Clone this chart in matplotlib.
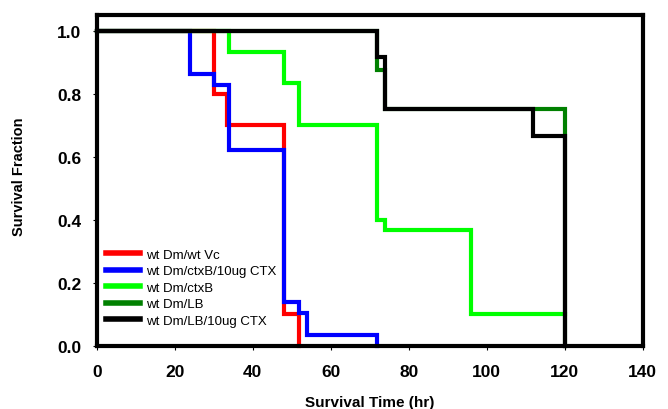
import matplotlib
matplotlib.use("Agg")
import matplotlib.pyplot as plt

plt.rcParams['font.family'] = ['Liberation Sans', 'DejaVu Sans']

labels = ["wt Dm/wt Vc", "wt Dm/ctxB/10ug CTX", "wt Dm/ctxB", "wt Dm/LB", "wt Dm/LB/10ug CTX"]
colors = ["#ff0000", "#0000ff", "#00ff00", "#008000", "#000000"]

t_red = [0, 30, 33.5, 48, 52]
s_red = [1.0, 0.8, 0.7, 0.1, 0.0]
t_blue = [0, 24, 30, 34, 48, 52, 54, 72]
s_blue = [1.0, 0.862, 0.828, 0.621, 0.138, 0.103, 0.034, 0.0]
t_lime = [0, 34, 48, 52, 72, 74, 96, 120]
s_lime = [1.0, 0.933, 0.833, 0.7, 0.4, 0.367, 0.1, 0.1]
t_dg = [0, 72, 74, 120]
s_dg = [1.0, 0.875, 0.75, 0.0]
t_blk = [0, 72, 74, 112, 120]
s_blk = [1.0, 0.917, 0.75, 0.667, 0.0]

xticks = [0, 20, 40, 60, 80, 100, 120, 140]
yticks = [0.0, 0.2, 0.4, 0.6, 0.8, 1.0]

fig = plt.figure(figsize=(6.68, 4.10), dpi=100)
ax = fig.add_axes([0.1448, 0.1544, 0.8172, 0.8066])

series = [(t_red, s_red), (t_blue, s_blue), (t_lime, s_lime), (t_dg, s_dg), (t_blk, s_blk)]
for (t, s), c, lab in zip(series, colors, labels):
    ax.step(t, s, where='post', color=c, lw=3, label=lab, solid_joinstyle='miter', clip_on=False)

ax.set_xlim(0, 140)
ax.set_ylim(0, 1.05)
ax.set_xticks(xticks)
ax.set_yticks(yticks)
ax.set_xticklabels([str(v) for v in xticks], fontweight='bold', fontsize=12.5)
ax.set_yticklabels([f"{v:.1f}" for v in yticks], fontweight='bold', fontsize=12.5)
ax.tick_params(direction='out', length=3, width=0.8, top=False, right=False)
ax.tick_params(axis='x', pad=10)
ax.tick_params(axis='y', pad=8)
for sp in ax.spines.values():
    sp.set_linewidth(3)

ax.set_xlabel("Survival Time (hr)", fontweight='bold', fontsize=11)
ax.xaxis.set_label_coords(0.5, -0.169)
ax.xaxis.label.set_va('center')
ax.set_ylabel("Survival Fraction", fontweight='bold', fontsize=10.5)
ax.yaxis.set_label_coords(-0.142, 0.515)
ax.yaxis.label.set_va('center')

leg = ax.legend(loc='lower left', bbox_to_anchor=(0.0, 0.029), frameon=False, fontsize=9.5,
                handlelength=2.6, handletextpad=0.4, labelspacing=0.32, borderaxespad=0.3)
for l in leg.get_lines():
    l.set_linewidth(4)

fig.savefig("out.png", dpi=100)
